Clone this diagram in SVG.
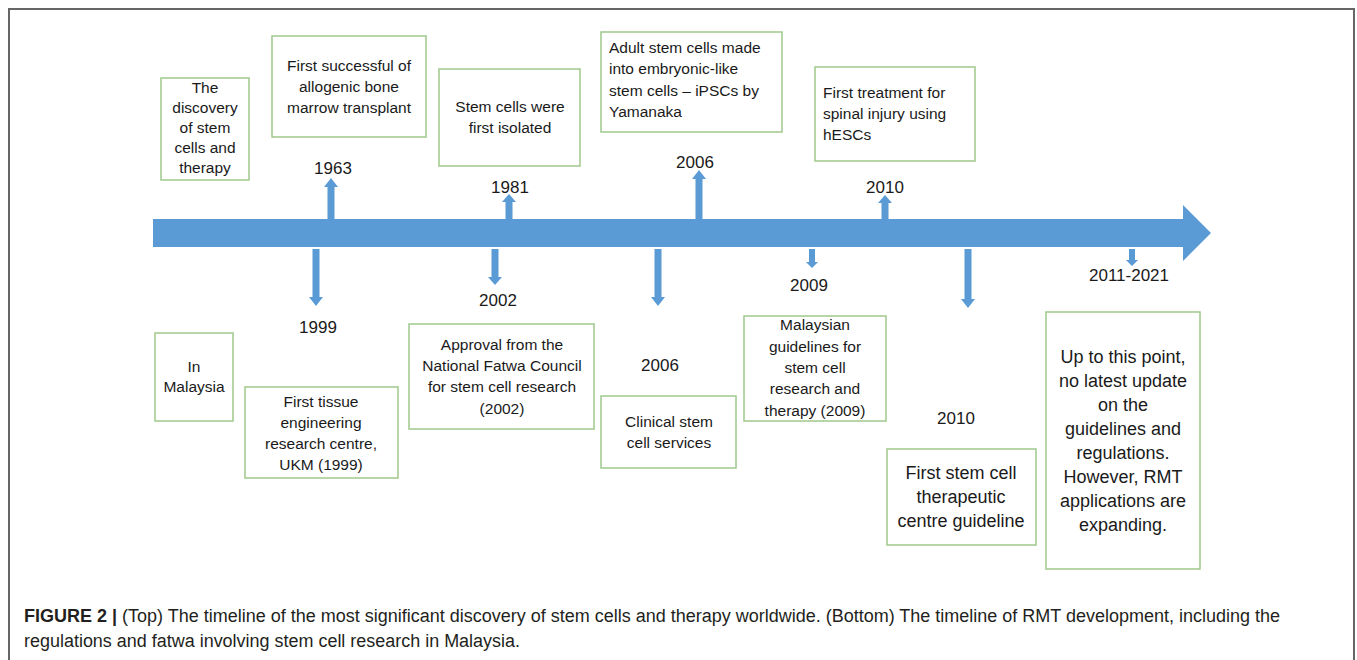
<svg xmlns="http://www.w3.org/2000/svg" width="1357" height="660" viewBox="0 0 1357 660">
<style>
.box{fill:#fff;stroke:#9fc98a;stroke-width:1.5}
.t{font-family:"Liberation Sans",Arial,sans-serif;font-size:15.5px;fill:#1a1a1a}
.c{text-anchor:middle}
.big{font-size:18px}
.yr{font-family:"Liberation Sans",Arial,sans-serif;font-size:17px;fill:#1a1a1a;text-anchor:middle}
.ar{fill:#5b9bd5}
.cap{font-family:"Liberation Sans",Arial,sans-serif;font-size:18px;fill:#231f20}
</style>
<rect width="1357" height="660" fill="#fff"/>
<rect x="9" y="9" width="1345" height="700" fill="none" stroke="#666" stroke-width="2"/>

<g id="connectors">
<polygon class="ar" points="153,219 1183,219 1183,205 1211,233 1183,261 1183,247 153,247"/>
<polygon class="ar" points="331,178 338,187 334.5,187 334.5,219 327.5,219 327.5,187 324,187"/>
<polygon class="ar" points="509,194 516,202 512.5,202 512.5,219 505.5,219 505.5,202 502,202"/>
<polygon class="ar" points="699,170 706,179 702.5,179 702.5,219 695.5,219 695.5,179 692,179"/>
<polygon class="ar" points="885,195 892,203 888.5,203 888.5,219 881.5,219 881.5,203 878,203"/>
<polygon class="ar" points="316,306 323,297 319.5,297 319.5,249 312.5,249 312.5,297 309,297"/>
<polygon class="ar" points="495,285 502,277 498.5,277 498.5,249 491.5,249 491.5,277 488,277"/>
<polygon class="ar" points="658,306 665,297 661.5,297 661.5,249 654.5,249 654.5,297 651,297"/>
<polygon class="ar" points="812,268 818,262 815,262 815,249 809,249 809,262 806,262"/>
<polygon class="ar" points="968,308 975,299 971.5,299 971.5,249 964.5,249 964.5,299 961,299"/>
<polygon class="ar" points="1132,266 1138,260 1135,260 1135,249 1129,249 1129,260 1126,260"/>
</g>

<g id="years">
<text class="yr" x="333" y="174">1963</text>
<text class="yr" x="510" y="193">1981</text>
<text class="yr" x="695" y="168">2006</text>
<text class="yr" x="885" y="193">2010</text>
<text class="yr" x="318" y="333">1999</text>
<text class="yr" x="498" y="306">2002</text>
<text class="yr" x="660" y="371">2006</text>
<text class="yr" x="809" y="291">2009</text>
<text class="yr" x="956" y="424">2010</text>
<text class="yr" x="1129" y="281">2011-2021</text>
</g>

<g id="top1">
<rect class="box" x="161" y="78" width="88" height="102"/>
<text class="t c" x="205"><tspan x="205" y="93">The</tspan><tspan x="205" y="113">discovery</tspan><tspan x="205" y="133">of stem</tspan><tspan x="205" y="153">cells and</tspan><tspan x="205" y="173">therapy</tspan></text>
</g>
<g id="top2">
<rect class="box" x="272" y="36" width="154" height="101"/>
<text class="t c"><tspan x="349" y="71">First successful of</tspan><tspan x="349" y="92">allogenic bone</tspan><tspan x="349" y="113">marrow transplant</tspan></text>
</g>
<g id="top3">
<rect class="box" x="439" y="69" width="141" height="97"/>
<text class="t c"><tspan x="510" y="112">Stem cells were</tspan><tspan x="510" y="133">first isolated</tspan></text>
</g>
<g id="top4">
<rect class="box" x="601" y="32" width="181" height="100"/>
<text class="t"><tspan x="609" y="53">Adult stem cells made</tspan><tspan x="609" y="74">into embryonic-like</tspan><tspan x="609" y="96">stem cells – iPSCs by</tspan><tspan x="609" y="117">Yamanaka</tspan></text>
</g>
<g id="top5">
<rect class="box" x="815" y="67" width="160" height="94"/>
<text class="t"><tspan x="823" y="98">First treatment for</tspan><tspan x="823" y="119">spinal injury using</tspan><tspan x="823" y="140">hESCs</tspan></text>
</g>

<g id="bot1">
<rect class="box" x="155" y="333" width="78" height="88"/>
<text class="t c"><tspan x="194" y="372">In</tspan><tspan x="194" y="392">Malaysia</tspan></text>
</g>
<g id="bot2">
<rect class="box" x="245" y="387" width="153" height="91"/>
<text class="t c"><tspan x="321" y="407">First tissue</tspan><tspan x="321" y="428">engineering</tspan><tspan x="321" y="449">research centre,</tspan><tspan x="321" y="470">UKM (1999)</tspan></text>
</g>
<g id="bot3">
<rect class="box" x="409" y="324" width="185" height="105"/>
<text class="t c"><tspan x="502" y="350">Approval from the</tspan><tspan x="502" y="371">National Fatwa Council</tspan><tspan x="502" y="392">for stem cell research</tspan><tspan x="502" y="414">(2002)</tspan></text>
</g>
<g id="bot4">
<rect class="box" x="601" y="396" width="135" height="72"/>
<text class="t c"><tspan x="669" y="427">Clinical stem</tspan><tspan x="669" y="448">cell services</tspan></text>
</g>
<g id="bot5">
<rect class="box" x="744" y="316" width="142" height="105"/>
<text class="t c"><tspan x="815" y="330">Malaysian</tspan><tspan x="815" y="352">guidelines for</tspan><tspan x="815" y="373">stem cell</tspan><tspan x="815" y="394">research and</tspan><tspan x="815" y="416">therapy (2009)</tspan></text>
</g>
<g id="bot6">
<rect class="box" x="887" y="449" width="149" height="96"/>
<text class="t c big"><tspan x="961" y="479">First stem cell</tspan><tspan x="961" y="503">therapeutic</tspan><tspan x="961" y="527">centre guideline</tspan></text>
</g>
<g id="bot7">
<rect class="box" x="1046" y="312" width="154" height="257"/>
<text class="t c big"><tspan x="1123" y="363">Up to this point,</tspan><tspan x="1123" y="387">no latest update</tspan><tspan x="1123" y="411">on the</tspan><tspan x="1123" y="435">guidelines and</tspan><tspan x="1123" y="459">regulations.</tspan><tspan x="1123" y="483">However, RMT</tspan><tspan x="1123" y="507">applications are</tspan><tspan x="1123" y="531">expanding.</tspan></text>
</g>

<g id="caption">
<text class="cap" x="24" y="622" textLength="1256" lengthAdjust="spacingAndGlyphs"><tspan font-weight="bold">FIGURE 2 |</tspan> (Top) The timeline of the most significant discovery of stem cells and therapy worldwide. (Bottom) The timeline of RMT development, including the</text>
<text class="cap" x="24" y="647" textLength="496" lengthAdjust="spacingAndGlyphs">regulations and fatwa involving stem cell research in Malaysia.</text>
</g>
</svg>
